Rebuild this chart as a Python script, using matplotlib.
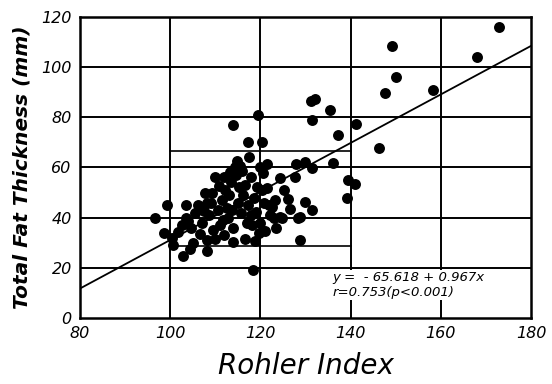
import numpy as np
import matplotlib.pyplot as plt

# Rohler index vs total fat thickness
rohler = [96.6, 99.2, 98.6, 100.3, 100.7, 102.9, 104.3, 108.1, 108.1, 114.0, 118.8, 118.4, 128.8,
          114.0, 117.3, 120.3, 119.5, 131.2, 132.0, 135.4, 131.4, 137.2, 141.3, 146.2, 147.6,
          149.1, 150.0, 158.3, 168.0, 172.8,
          127.8, 129.8, 131.4, 136.1, 139.4, 141.0, 139.1, 124.4, 127.7, 121.4, 120.6, 109.9, 114.4,
          121.4, 125.2, 126.2, 129.9, 131.4, 122.5, 122.1, 124.3, 128.8, 123.2,
          101.8, 102.5, 103.5, 104.5, 105.5, 106.2, 107.0, 108.1, 108.5, 109.2, 109.5, 110.5,
          111.0, 111.5, 112.2, 112.5, 112.8, 113.0, 113.5, 114.0, 114.5, 115.0, 115.3, 115.8,
          116.2, 116.6, 117.0, 117.3, 117.8, 118.1, 118.5, 119.0, 119.2, 119.6, 120.3, 120.8,
          121.8, 122.9, 124.7, 128.4, 110.0, 112.0, 106.5, 105.0, 103.5, 113.2, 115.5, 116.5,
          121.0, 123.5, 117.5, 114.8, 112.0, 110.8, 107.8, 109.0, 119.8, 118.0, 113.8, 111.8,
          116.0, 104.0, 107.5, 120.0, 126.5]
fat = [40.0, 45.0, 34.0, 32.0, 29.0, 24.5, 27.5, 26.8, 31.0, 30.4, 30.6, 19.1, 31.2,
       77.0, 70.0, 70.0, 81.0, 86.5, 87.2, 82.8, 78.8, 72.8, 77.2, 67.7, 89.8,
       108.2, 96.0, 90.9, 104.0, 115.8,
       61.5, 62.2, 59.8, 61.9, 55.0, 53.3, 48.0, 55.8, 56.0, 61.3, 57.8, 56.3, 60.3,
       51.6, 51.0, 47.3, 46.4, 43.1, 44.4, 41.1, 40.4, 40.2, 47.0,
       34.4, 37.0, 40.0, 36.0, 42.0, 45.0, 38.0, 45.7, 41.0, 49.7, 35.0, 43.0,
       37.1, 47.0, 51.0, 44.0, 40.0, 49.0, 54.0, 36.0, 57.0, 46.0, 52.0, 42.0,
       49.0, 53.0, 38.0, 45.0, 56.0, 37.1, 48.0, 42.4, 52.0, 34.0, 51.0, 46.0,
       45.0, 39.8, 39.8, 39.8, 31.5, 33.0, 33.5, 30.0, 45.0, 58.0, 60.5, 31.5,
       34.5, 36.0, 64.0, 62.5, 56.0, 52.5, 50.0, 46.0, 60.0, 41.0, 43.0, 39.0,
       58.5, 38.5, 42.5, 38.0, 43.5]

intercept = -65.618
slope = 0.967

xticks = [80, 100, 120, 140, 160, 180]
xticklabels = ['80', '100', '120', '140', '160', '180']
yticks = [0, 20, 40, 60, 80, 100, 120]

fig = plt.figure(figsize=(5.52, 3.84), dpi=100)
ax = fig.add_axes([0.145, 0.172, 0.817, 0.784])

# grid
for gx in xticks[1:-1]:
    ax.axvline(gx, color='black', lw=1.4, zorder=1)
for gy in yticks[1:-1]:
    ax.axhline(gy, color='black', lw=1.4, zorder=1)
# the two extra reference segments
ax.plot([100, 140], [66.6, 66.6], color='black', lw=1.2, zorder=1)
ax.plot([100, 140], [28.5, 28.5], color='black', lw=1.2, zorder=1)

xl = np.array([80, 180])
ax.plot(xl, intercept + slope * xl, color='black', lw=1.3, zorder=2)

ax.scatter(rohler, fat, s=62, color='black', zorder=3, linewidths=0)

ax.set_xlim(80, 180)
ax.set_ylim(0, 120)
ax.set_xticks(xticks)
ax.set_xticklabels(xticklabels)
ax.set_yticks(yticks)
ax.tick_params(length=0, labelsize=11.5, pad=6)
for lab in ax.get_xticklabels() + ax.get_yticklabels():
    lab.set_fontstyle('italic')
for s in ax.spines.values():
    s.set_linewidth(1.8)

ax.set_ylabel('Total Fat Thickness (mm)', fontsize=14.5, fontweight='bold',
              fontstyle='italic', labelpad=7)
ax.set_xlabel('Rohler Index', fontsize=20, fontstyle='italic', labelpad=8)

ax.text(0.56, 0.11, 'y =  - 65.618 + 0.967x\nr=0.753(p<0.001)', transform=ax.transAxes,
        fontsize=9.5, fontstyle='italic', va='center', ha='left', linespacing=1.15,
        bbox=dict(facecolor='white', edgecolor='none', pad=1), zorder=4)

fig.savefig('out.png', dpi=100)
